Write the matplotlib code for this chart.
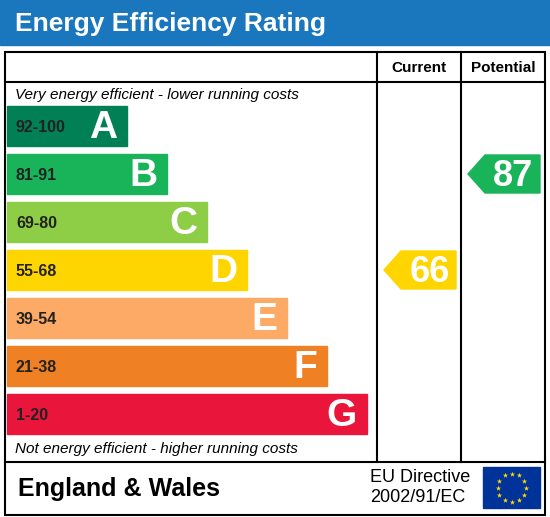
import numpy as np
import matplotlib.pyplot as plt
from matplotlib.patches import Rectangle, Polygon

plt.rcParams["font.family"] = ["Liberation Sans", "DejaVu Sans"]

# ── Data ──────────────────────────────────────────────────────────────────────
bands = ["A", "B", "C", "D", "E", "F", "G"]
ranges = ["92-100", "81-91", "69-80", "55-68", "39-54", "21-38", "1-20"]
colors = ["#008054", "#19b459", "#8dce46", "#ffd500", "#fcaa65", "#ef8023", "#e9153b"]
current = 66
potential = 87
band_lo = [92, 81, 69, 55, 39, 21, 1]

W, H = 550, 517
fig = plt.figure(figsize=(W / 100, H / 100), dpi=100)
ax = fig.add_axes([0, 0, 1, 1])
ax.set_xlim(0, W)
ax.set_ylim(H, 0)
ax.axis("off")

# title bar
ax.add_patch(Rectangle((0, 0), W, 45, color="#1a77bd"))
ax.text(15, 24, "Energy Efficiency Rating", color="white", fontsize=19,
        fontweight="bold", va="center")

# frame
lw = 1.5
ax.add_patch(Rectangle((5, 52), 540, 463, fill=False, ec="black", lw=lw))
ax.plot([5, 545], [82, 82], color="black", lw=lw)
ax.plot([5, 545], [462, 462], color="black", lw=lw)
ax.plot([377, 377], [52, 462], color="black", lw=lw)
ax.plot([461, 461], [52, 462], color="black", lw=lw)
ax.text(419, 68, "Current", ha="center", va="center", fontsize=11, fontweight="bold")
ax.text(503, 68, "Potential", ha="center", va="center", fontsize=11, fontweight="bold")

ax.text(15, 95, "Very energy efficient - lower running costs", fontsize=11,
        style="italic", va="center")
ax.text(15, 449, "Not energy efficient - higher running costs", fontsize=11,
        style="italic", va="center")

def band_index(v):
    for i, lo in enumerate(band_lo):
        if v >= lo:
            return i
    return len(band_lo) - 1

for i, (b, r, c) in enumerate(zip(bands, ranges, colors)):
    top = 106 + i * 48
    right = 127 + i * 40
    ax.add_patch(Rectangle((7, top), right - 7, 40, color=c))
    ax.text(16, top + 21, r, fontsize=11.5, fontweight="bold", color="#222222", va="center")
    ax.text(right - 10, top + 22, b, fontsize=28, fontweight="bold", color="white",
            ha="right", va="center")

def arrow(x0, x1, v):
    i = band_index(v)
    cy = 106 + i * 48 + 20
    h = 19
    pts = [(x0, cy), (x0 + 17, cy - h), (x1, cy - h), (x1, cy + h), (x0 + 17, cy + h)]
    ax.add_patch(Polygon(pts, closed=True, color=colors[i]))
    ax.text((x0 + 17 + x1) / 2 + 1, cy + 2, str(v), fontsize=26, fontweight="bold",
            color="white", ha="center", va="center")

arrow(384, 456, current)
arrow(468, 540, potential)

# footer
ax.text(18, 489, "England & Wales", fontsize=18, fontweight="bold", va="center")
ax.text(370, 478, "EU Directive", fontsize=13, va="center")
ax.text(370, 497, "2002/91/EC", fontsize=13, va="center")
ax.add_patch(Rectangle((483, 467), 57, 41, color="#003399"))
ang = np.linspace(0, 2 * np.pi, 13)[:-1]
ax.scatter(511.5 + 14 * np.cos(ang), 487.5 + 14 * np.sin(ang), marker="*",
           s=16, color="#ffdd00", lw=0)

fig.savefig("out.png", dpi=100)
